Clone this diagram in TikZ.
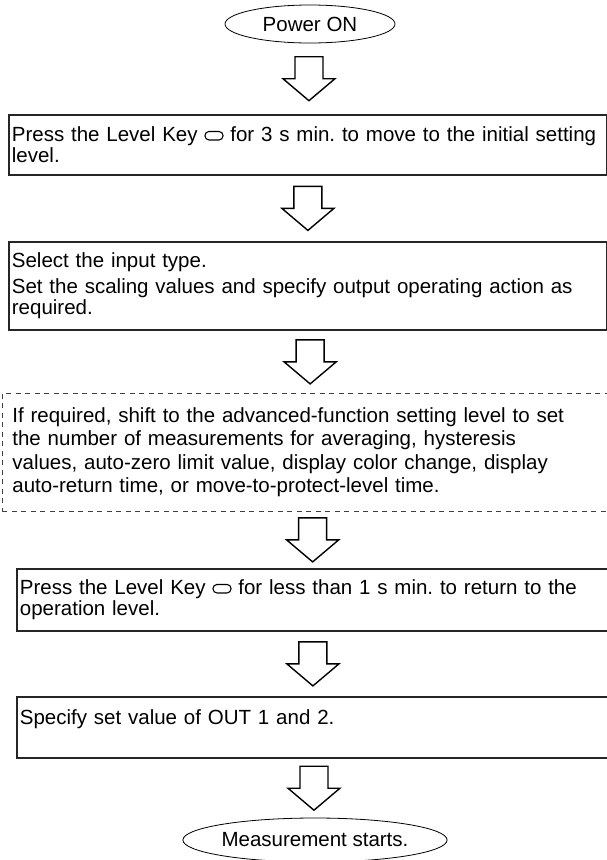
\documentclass[tikz,border=0pt]{standalone}
\usepackage{fontspec}
\setmainfont{Liberation Sans}
\usetikzlibrary{shapes.geometric,calc}

\newcommand{\lvlkey}{\tikz[baseline=-1.5pt]\draw[line width=1.1pt,rounded corners=4pt] (0pt,0pt) rectangle (18pt,8.5pt);}

\tikzset{
  stepbox/.style={draw=black!85, line width=1.8pt, anchor=north west, align=left,
    inner xsep=3pt, inner ysep=0pt, font=\fontsize{20.5}{21.5}\selectfont},
  optbox/.style={stepbox, draw=black!75, line width=0.8pt, dash pattern=on 5pt off 4.5pt,
    inner xsep=10pt, font=\fontsize{20.5}{23.5}\selectfont},
  termnode/.style={draw, ellipse, line width=0.8pt, inner sep=0pt, font=\fontsize{20.5}{21.5}\selectfont},
  blockarrow/.pic={\draw[line width=1.4pt, line join=miter]
    (-14,-22) -- (14,-22) -- (14,0) -- (26,0) -- (0,22) -- (-26,0) -- (-14,0) -- cycle;}
}

\begin{document}
\frenchspacing
\hyphenpenalty=10000
\begin{tikzpicture}[x=1pt,y=-1pt]
\useasboundingbox (0,0) rectangle (607,860);

\node[termnode, minimum width=170pt, minimum height=38pt] (pwr) at (310,24) {Power ON};

\node[stepbox, text width=592pt, minimum height=60pt] (lvl) at (8,114)
  {\mbox{Press the Level Key \lvlkey{} for 3 s min. to move to the initial setting}\\ level.};
\node[stepbox, text width=592pt, minimum height=88pt] (inp) at (8,241)
  {Select the input type.\\[4pt] Set the scaling values and specify output operating action as\\ required.};
\node[optbox, text width=600pt, minimum height=118pt] (opt) at (2,393)
  {If required, shift to the advanced-function setting level to set\\ the number of measurements for averaging, hysteresis\\ values, auto-zero limit value, display color change, display\\ auto-return time, or move-to-protect-level time.};
\node[stepbox, text width=586pt, minimum height=62pt] (ret) at (16,568)
  {Press the Level Key \lvlkey{} for less than 1 s min. to return to the\\ operation level.};
\node[stepbox, text width=586pt, minimum height=61pt] (val) at (16,696)
  {Specify set value of OUT 1 and 2.\\ \mbox{}};

\node[termnode, minimum width=234pt, minimum height=44pt] (meas) at (315,840) {Measurement starts.};

\foreach \a/\b in {pwr/lvl, lvl/inp, inp/opt, opt/ret, ret/val, val/meas}
  \pic at ($(\a.south)!0.5!(\b.north)$) {blockarrow};

\end{tikzpicture}
\end{document}
